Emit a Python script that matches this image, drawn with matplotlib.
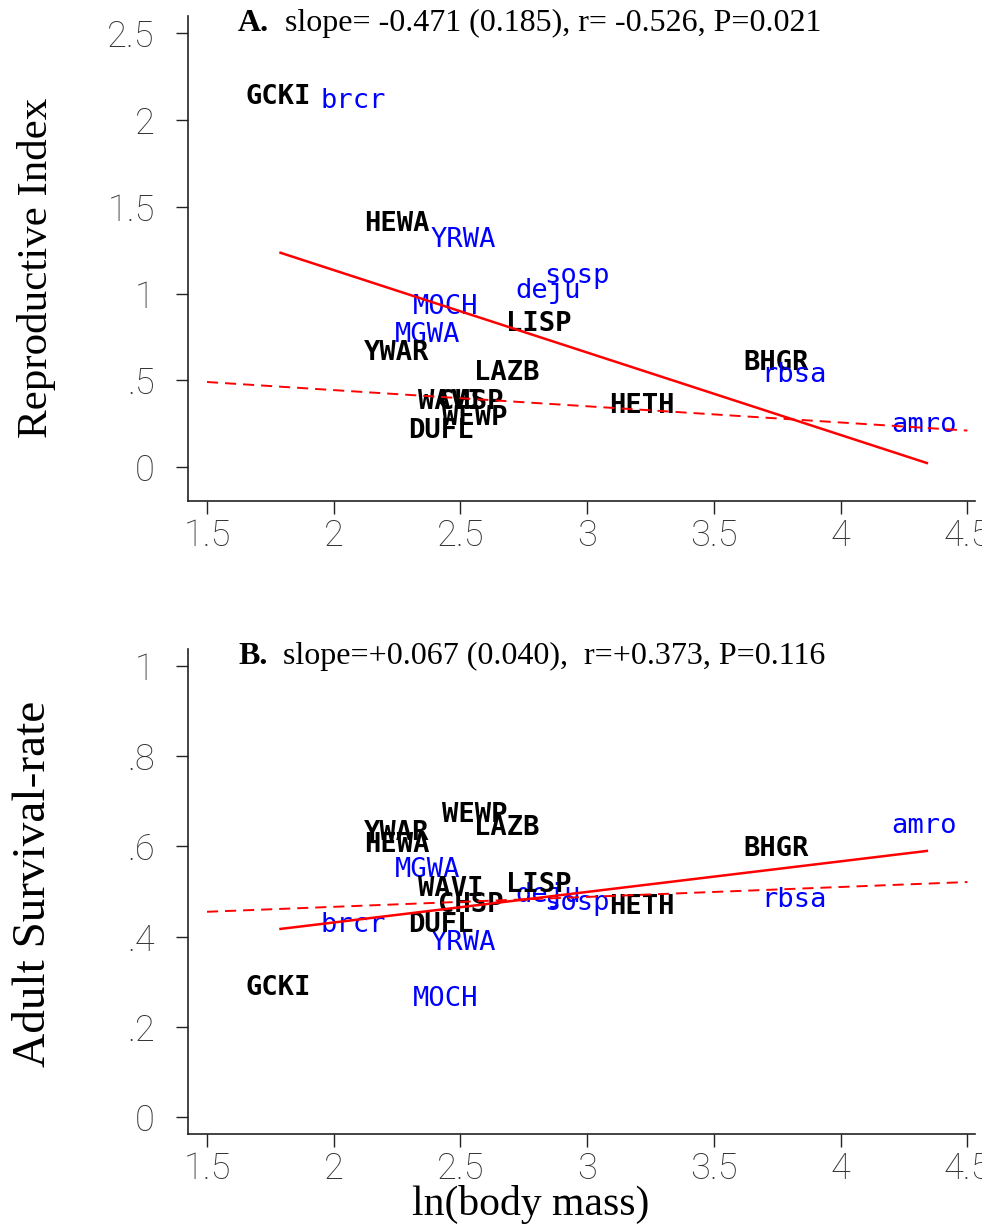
import matplotlib
matplotlib.use("Agg")
import matplotlib.pyplot as plt

# ---------------- data ----------------
species = ["GCKI", "brcr", "HEWA", "YRWA", "sosp", "deju", "MOCH", "MGWA", "YWAR", "LISP",
           "LAZB", "WAVI", "CHSP", "WEWP", "DUFL", "HETH", "BHGR", "rbsa", "amro"]
group = ["k", "b", "k", "b", "b", "b", "b", "b", "k", "k",
         "k", "k", "k", "k", "k", "k", "k", "b", "b"]
ln_mass = [1.78, 2.076, 2.248, 2.51, 2.96, 2.846, 2.44, 2.372, 2.248, 2.807,
           2.684, 2.462, 2.542, 2.558, 2.424, 3.215, 3.746, 3.817, 4.327]
repro_index = [2.135, 2.11, 1.40, 1.31, 1.10, 1.015, 0.92, 0.76, 0.66, 0.825,
               0.54, 0.375, 0.375, 0.28, 0.21, 0.35, 0.60, 0.53, 0.242]
survival = [0.286, 0.426, 0.603, 0.386, 0.475, 0.492, 0.262, 0.548, 0.63, 0.515,
            0.64, 0.505, 0.47, 0.67, 0.425, 0.466, 0.594, 0.481, 0.645]

fit_x = [1.79, 4.34]
fitA_y = [1.235, 0.023]
fitB_y = [0.417, 0.590]
dash_x = [1.5, 4.5]
dashA_y = [0.49, 0.21]
dashB_y = [0.455, 0.521]

x_ticks = [1.5, 2, 2.5, 3, 3.5, 4, 4.5]
x_ticklabels = ["1.5", "2", "2.5", "3", "3.5", "4", "4.5"]
yA_ticks = [0, 0.5, 1, 1.5, 2, 2.5]
yA_ticklabels = ["0", ".5", "1", "1.5", "2", "2.5"]
yB_ticks = [0, 0.2, 0.4, 0.6, 0.8, 1.0]
yB_ticklabels = ["0", ".2", ".4", ".6", ".8", "1"]

titleA_lab = "A."
titleA = "  slope= -0.471 (0.185), r= -0.526, P=0.021"
titleB_lab = "B."
titleB = "  slope=+0.067 (0.040),  r=+0.373, P=0.116"

# ---------------- style ----------------
plt.rcParams["lines.scale_dashes"] = False
SERIF = ["Liberation Serif", "DejaVu Serif"]
TICKFONT = dict(family=["Roboto", "DejaVu Sans"], weight="light", size=26)
LABFONT = ["DejaVu Sans Mono"]

W, H = 982, 1228
fig = plt.figure(figsize=(W / 100, H / 100), dpi=100)

def px_axes(left, right, top, bottom):
    return fig.add_axes([left / W, 1 - bottom / H, (right - left) / W, (bottom - top) / H])

axA = px_axes(188, 975, 16, 501)
axB = px_axes(188, 975, 649, 1134)

def style(ax, yt, ytl, ylim):
    ax.set_xlim(1.425, 4.53)
    ax.set_ylim(*ylim)
    for s in ["top", "right"]:
        ax.spines[s].set_visible(False)
    for s in ["left", "bottom"]:
        ax.spines[s].set_color("#222222")
        ax.spines[s].set_linewidth(1.2)
    ax.set_xticks(x_ticks)
    ax.set_xticklabels(x_ticklabels, fontdict=TICKFONT, color="#333333")
    ax.set_yticks(yt)
    ax.set_yticklabels(ytl, fontdict=TICKFONT, color="#333333")
    ax.tick_params(axis="both", direction="out", length=9, width=1, color="#222222")
    ax.tick_params(axis="y", pad=15)
    ax.tick_params(axis="x", pad=3)

def labels(ax, yvals):
    for name, g, xv, yv in zip(species, group, ln_mass, yvals):
        if g == "k":
            ax.text(xv, yv, name, color="black", fontweight="bold", family=LABFONT,
                    fontsize=19.5, ha="center", va="center", zorder=2)
        else:
            ax.text(xv, yv, name, color="#0000ff", fontweight="normal", family=LABFONT,
                    fontsize=19.5, ha="center", va="center", zorder=2)

def title(ax, lab, txt):
    t = ax.text(0.0635, 0.985, lab, transform=ax.transAxes, family=SERIF,
                fontweight="bold", fontsize=23, ha="left", va="center")
    ax.annotate(txt, xy=(1, 0), xycoords=t, family=SERIF, fontsize=23,
                ha="left", va="bottom")

# Panel A
style(axA, yA_ticks, yA_ticklabels, (-0.196, 2.6))
labels(axA, repro_index)
axA.plot(fit_x, fitA_y, color="red", lw=1.8, zorder=3)
axA.plot(dash_x, dashA_y, color="red", lw=1.4, dashes=(8, 5), zorder=3)
title(axA, titleA_lab, titleA)
axA.set_ylabel("Reproductive Index", family=SERIF, fontsize=31, va="center")
axA.yaxis.set_label_coords(-0.192, 0.48)

# Panel B
style(axB, yB_ticks, yB_ticklabels, (-0.038, 1.038))
labels(axB, survival)
axB.plot(fit_x, fitB_y, color="red", lw=1.8, zorder=3)
axB.plot(dash_x, dashB_y, color="red", lw=1.4, dashes=(8, 5), zorder=3)
title(axB, titleB_lab, titleB)
axB.set_ylabel("Adult Survival-rate", family=SERIF, fontsize=34, va="center")
axB.yaxis.set_label_coords(-0.196, 0.515)
axB.set_xlabel("ln(body mass)", family=SERIF, fontsize=30, va="center")
axB.xaxis.set_label_coords(0.435, -0.145)

fig.savefig("out.png", dpi=100)
